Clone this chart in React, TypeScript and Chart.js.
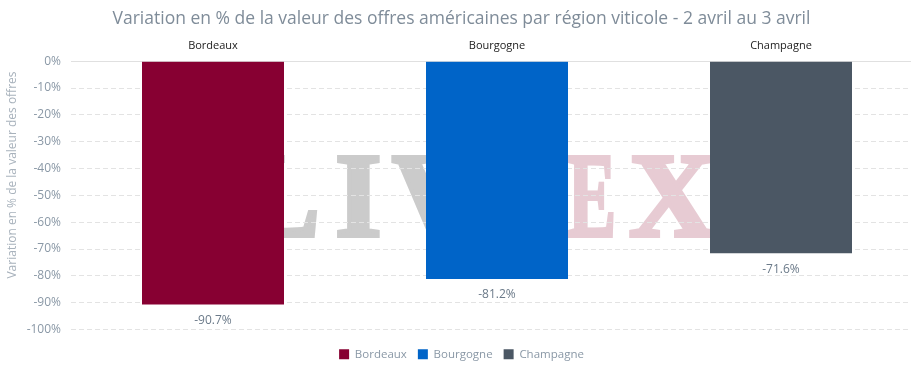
import React, { useEffect, useRef } from "react";
import { Chart, registerables } from "chart.js";

Chart.register(...registerables);

const categories = ["Bordeaux", "Bourgogne", "Champagne"];
const seriesNames = ["Bordeaux", "Bourgogne", "Champagne"];
const seriesValues = [-90.7, -81.2, -71.6];
const seriesColors = ["#870032", "#0064c8", "#4b5764"];
const titleText = "Variation en % de la valeur des offres américaines par région viticole - 2 avril au 3 avril";
const yAxisTitle = "Variation en % de la valeur des offres";

const FONT = "'Open Sans', sans-serif";

const watermarkPlugin = {
  id: "watermark",
  beforeDraw(chart: any) {
    const { ctx } = chart;
    ctx.save();
    ctx.fillStyle = "#ffffff";
    ctx.fillRect(0, 0, chart.width, chart.height);
    ctx.font = "bold 120px 'Liberation Serif', serif";
    ctx.textBaseline = "alphabetic";
    ctx.lineWidth = 4;
    ctx.lineJoin = "miter";
    const letter = (t: string, x: number, align: string, sx = 1) => {
      ctx.save();
      ctx.translate(x, 236);
      ctx.scale(sx, 1);
      ctx.textAlign = align;
      ctx.fillText(t, 0, 0);
      ctx.strokeText(t, 0, 0);
      ctx.restore();
    };
    ctx.fillStyle = "#cbcbcb";
    ctx.strokeStyle = "#cbcbcb";
    letter("L", 320, "right");
    letter("I", 335, "left");
    letter("V", 392, "left");
    ctx.fillStyle = "#e7cbd3";
    ctx.strokeStyle = "#e7cbd3";
    letter("E", 568, "left", 0.6);
    letter("X", 629, "left");
    // y-axis title
    ctx.font = `12px ${FONT}`;
    ctx.fillStyle = "#a8b2bc";
    ctx.textAlign = "center";
    ctx.textBaseline = "middle";
    ctx.translate(13, 175);
    ctx.rotate(-Math.PI / 2);
    ctx.fillText(yAxisTitle, 0, 0);
    ctx.restore();
  },
};

const labelPlugin = {
  id: "barLabels",
  afterDatasetsDraw(chart: any) {
    const { ctx } = chart;
    ctx.save();
    ctx.font = `12px ${FONT}`;
    ctx.fillStyle = "#6b7a89";
    ctx.textAlign = "center";
    ctx.textBaseline = "middle";
    chart.data.datasets.forEach((ds: any, di: number) => {
      const meta = chart.getDatasetMeta(di);
      ds.data.forEach((v: any, i: number) => {
        if (v === null || v === undefined) return;
        const el = meta.data[i];
        ctx.fillText(`${v.toFixed(1)}%`, el.x, el.y + 16);
      });
    });
    ctx.restore();
  },
};

export default function App() {
  const ref = useRef<HTMLCanvasElement>(null);
  useEffect(() => {
    if (!ref.current) return;
    const datasets = seriesNames.map((name, si) => ({
      label: name,
      data: categories.map((_, ci) => (ci === si ? seriesValues[si] : null)),
      backgroundColor: seriesColors[si],
      borderWidth: 0,
      categoryPercentage: 1,
      barPercentage: 0.5,
      skipNull: true,
    }));
    const chart = new Chart(ref.current, {
      type: "bar",
      data: { labels: categories, datasets: datasets as any },
      plugins: [watermarkPlugin, labelPlugin],
      options: {
        animation: false,
        responsive: false,
        maintainAspectRatio: false,
        layout: { padding: { left: 0, right: 7, top: 9, bottom: 0 } },
        plugins: {
          title: {
            display: true,
            text: titleText,
            color: "#7f8c99",
            font: { family: FONT, size: 17.5, weight: "normal" },
            padding: { top: 0, bottom: 8 },
          },
          legend: {
            position: "bottom",
            labels: {
              boxWidth: 10,
              boxHeight: 10,
              color: "#8a98a6",
              font: { family: FONT, size: 11.5 },
              padding: 11,
            },
          },
          tooltip: { enabled: false },
        },
        scales: {
          x: {
            position: "top",
            grid: { display: false },
            border: { display: true, color: "#e0e0e0" },
            ticks: { color: "#222222", font: { family: FONT, size: 11 }, padding: 1 },
          },
          x2: {
            position: "bottom",
            display: true,
            grid: { display: false },
            border: { display: false },
            ticks: { display: false },
            afterFit: (s: any) => { s.height = 8; },
          },
          y: {
            min: -100,
            max: 0,
            afterFit: (s: any) => { s.width = 71; },
            ticks: {
              stepSize: 10,
              color: "#8a98a6",
              font: { family: FONT, size: 12 },
              padding: 10,
              callback: (v: any) => `${v}%`,
            },
            grid: { color: "#e3e3e3", drawTicks: false, lineWidth: 1 },
            border: { display: false, dash: [5, 3] },
          },
        },
      },
    });
    return () => chart.destroy();
  }, []);
  return (
    <div style={{ position: "fixed", left: 0, top: 0, width: 911, height: 370, overflow: "hidden", background: "#fff" }}>
      <canvas ref={ref} width={930} height={370} style={{ display: "block" }} />
    </div>
  );
}
